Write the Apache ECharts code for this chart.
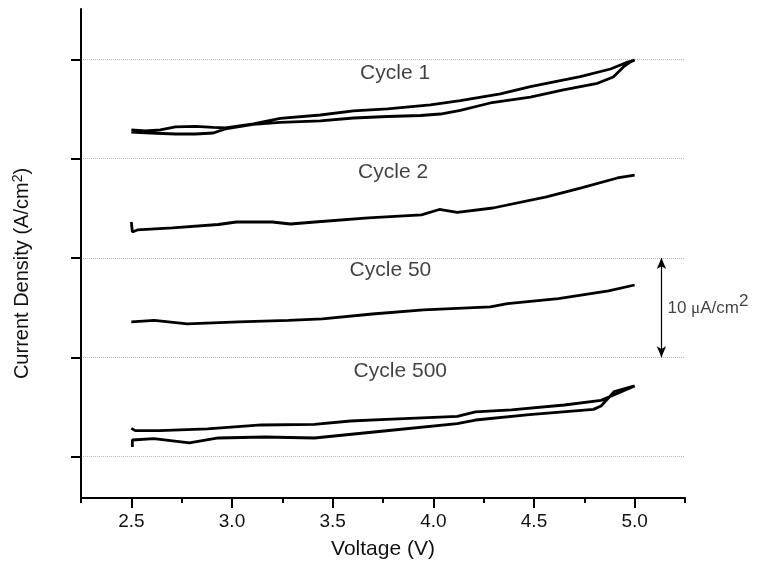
<!DOCTYPE html>
<html>
<head>
<meta charset="utf-8">
<script src="https://cdn.jsdelivr.net/npm/echarts@6/dist/echarts.min.js"></script>
<style>html,body{margin:0;padding:0;background:#fff;}#chart{width:760px;height:576px;}</style>
</head>
<body>
<div id="chart"></div>
<script>
// ---- data (Voltage in V, current density in µA/cm², arbitrary offset per cycle) ----
const voltageTicks = [2.5, 3.0, 3.5, 4.0, 4.5, 5.0];
const voltageMinorTicks = [2.25, 2.75, 3.25, 3.75, 4.25, 4.75, 5.25];
const currentTicks = [0, 10, 20, 30, 40];

const cycle1 = [
  [2.5,32.68],[2.594,32.58],[2.719,32.48],[2.818,32.48],[2.907,32.58],[2.967,32.99],[3.106,33.44],
  [3.240,33.64],[3.439,33.79],[3.603,34.09],[3.772,34.24],[3.936,34.34],[4.035,34.49],[4.134,34.85],
  [4.283,35.60],[4.482,36.18],[4.646,36.91],[4.815,37.58],[4.894,38.22],[4.944,39.23],[4.979,39.73],
  [5.0,39.93],[5.0,39.83],[4.954,39.63],[4.880,39.02],[4.730,38.25],[4.482,37.24],[4.333,36.51],
  [4.134,35.83],[3.985,35.40],[3.772,35.00],[3.603,34.80],[3.439,34.39],[3.240,34.06],[3.106,33.49],
  [2.967,33.09],[2.907,33.14],[2.818,33.24],[2.719,33.19],[2.644,32.89],[2.570,32.78],[2.5,32.88]
];
const cycle2 = [
  [2.5,23.62],[2.505,22.62],[2.53,22.82],[2.704,23.02],[2.932,23.37],[3.022,23.62],[3.200,23.62],
  [3.290,23.42],[3.412,23.62],[3.677,24.03],[3.941,24.33],[4.030,24.88],[4.119,24.59],[4.296,25.03],
  [4.562,26.14],[4.735,27.05],[4.914,28.05],[5.0,28.35]
];
const cycle50 = [
  [2.5,13.56],[2.614,13.71],[2.778,13.36],[3.032,13.56],[3.280,13.71],[3.449,13.86],[3.697,14.36],
  [3.951,14.77],[4.283,15.07],[4.368,15.40],[4.621,15.91],[4.870,16.68],[5.0,17.28]
];
const cycle500 = [
  [2.5,2.85],[2.52,2.62],[2.640,2.62],[2.878,2.79],[3.146,3.19],[3.409,3.25],[3.588,3.59],[3.767,3.75],
  [4.119,4.05],[4.209,4.50],[4.388,4.70],[4.651,5.20],[4.833,5.67],[4.919,6.41],[5.0,7.12],
  [4.899,6.56],[4.833,5.10],[4.795,4.76],[4.477,4.23],[4.209,3.69],[4.119,3.33],[3.767,2.61],
  [3.409,1.88],[3.161,1.98],[2.932,1.88],[2.788,1.38],[2.612,1.82],[2.505,1.68],[2.505,0.98]
];

const cycleNames = ['Cycle 1', 'Cycle 2', 'Cycle 50', 'Cycle 500'];
const cycleLabelV = [3.81, 3.80, 3.787, 3.836];
const cycleLabelJ = [38.62, 28.66, 18.79, 8.63];

const scaleBarV = 5.133;
const scaleBarFrom = 10;
const scaleBarTo = 20;
const scaleBarLabelJ = 14.9;

// ---- chart ----
const FONT = '"Liberation Sans", Arial, sans-serif';
const TXT = '#111';
const chart = echarts.init(document.getElementById('chart'));
const lineSeries = (data) => ({
  type: 'line', data: data, showSymbol: false, symbol: 'none', smooth: false,
  lineStyle: { color: '#000', width: 2.8 }, xAxisIndex: 0, yAxisIndex: 0, z: 3
});

const option = {
  animation: false,
  backgroundColor: '#fff',
  grid: { left: 81, right: 75, top: 9, bottom: 78, containLabel: false },
  xAxis: [{
    type: 'value', min: 2.25, max: 5.25,
    name: 'Voltage (V)', nameLocation: 'middle', nameGap: 41,
    nameTextStyle: { fontFamily: FONT, fontSize: 21, color: TXT },
    axisLine: { show: true, onZero: false, lineStyle: { color: '#000', width: 2 } },
    axisTick: { show: true, length: 10, lineStyle: { color: '#000', width: 2 }, customValues: voltageTicks },
    axisLabel: { show: true, margin: 14, fontFamily: FONT, fontSize: 19, color: TXT,
      customValues: voltageTicks, formatter: (v) => Number(v).toFixed(1) },
    splitLine: { show: false }
  }, {
    type: 'value', min: 2.25, max: 5.25, position: 'bottom',
    axisLine: { show: false, onZero: false },
    axisTick: { show: true, length: 5, lineStyle: { color: '#000', width: 2 }, customValues: voltageMinorTicks },
    axisLabel: { show: false },
    splitLine: { show: false }
  }],
  yAxis: [{
    type: 'value', min: -4.16, max: 45.06,
    name: 'Current Density (A/cm{sup|2})', nameLocation: 'middle', nameGap: 47,
    nameTextStyle: { fontFamily: FONT, fontSize: 20, color: TXT, padding: [0, 40, 0, 0],
      rich: { sup: { fontFamily: FONT, fontSize: 14, verticalAlign: 'top', padding: [0, 0, 9, 0], color: TXT } } },
    axisLine: { show: true, onZero: false, lineStyle: { color: '#000', width: 2 } },
    axisTick: { show: true, length: 10, lineStyle: { color: '#000', width: 2 }, customValues: currentTicks },
    axisLabel: { show: false },
    splitLine: { show: true, lineStyle: { color: '#bbb', type: 'dotted', width: 1 } }
  }],
  series: [
    lineSeries(cycle1),
    lineSeries(cycle2),
    Object.assign(lineSeries(cycle50), {
      markLine: {
        silent: true, symbol: ['arrow', 'arrow'], symbolSize: [7, 11],
        lineStyle: { color: '#000', width: 1.2, type: 'solid' },
        label: { show: false },
        data: [[{ coord: [scaleBarV, scaleBarFrom] }, { coord: [scaleBarV, scaleBarTo] }]]
      }
    }),
    lineSeries(cycle500),
    {
      type: 'scatter', symbolSize: 0, silent: true, clip: false,
      data: cycleNames.map((n, i) => ({ value: [cycleLabelV[i], cycleLabelJ[i]], name: n })),
      label: { show: true, position: 'inside', formatter: (p) => p.name,
        fontFamily: FONT, fontSize: 21, color: TXT }
    },
    {
      type: 'scatter', symbolSize: 0, silent: true, clip: false,
      data: [{ value: [scaleBarV, scaleBarLabelJ] }],
      label: { show: true, position: 'right', distance: 6,
        formatter: '{a|10 }{mu|μ}{a|A/cm}{sup|2}',
        rich: {
          a: { fontFamily: FONT, fontSize: 17, color: TXT },
          mu: { fontFamily: '"Liberation Serif", serif', fontSize: 17, color: TXT },
          sup: { fontFamily: FONT, fontSize: 17, color: TXT, padding: [0, 0, 14, 0] }
        } }
    }
  ]
};
chart.setOption(option);
</script>
</body>
</html>
